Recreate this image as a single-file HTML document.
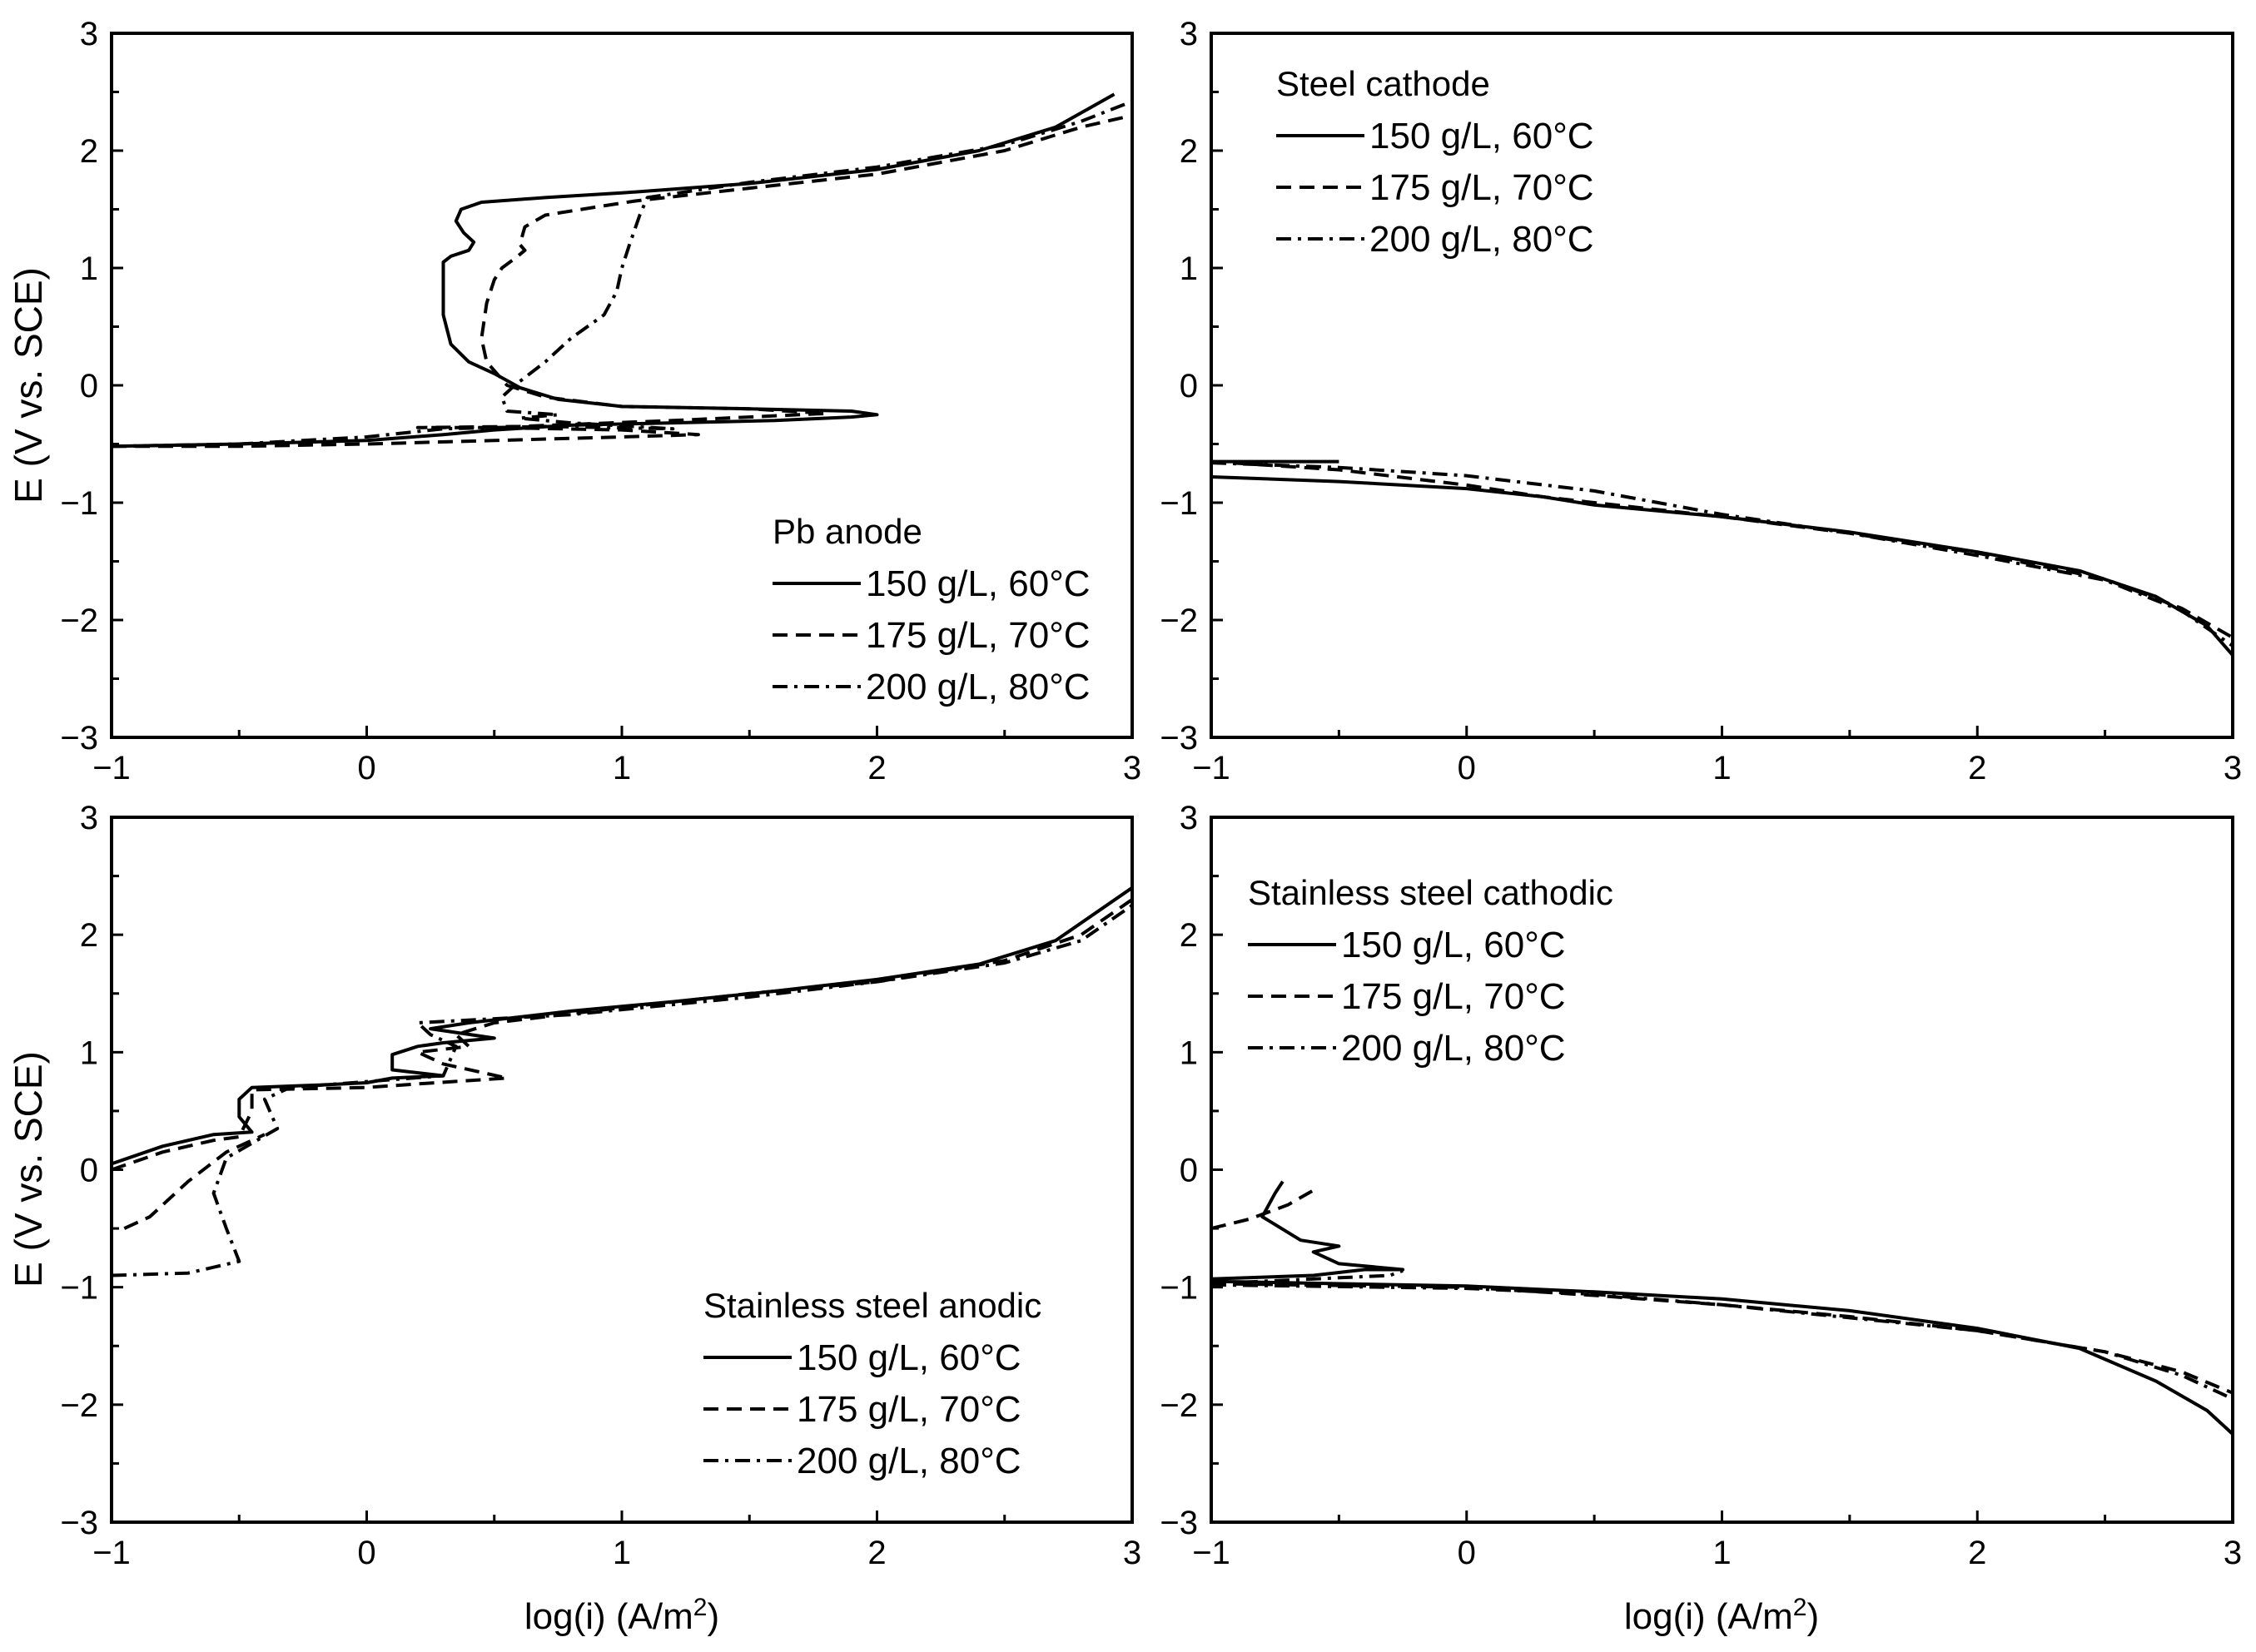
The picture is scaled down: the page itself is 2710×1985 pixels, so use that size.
<!DOCTYPE html>
<html><head><meta charset="utf-8"><style>
body{margin:0;background:#fff}
svg{display:block;font-family:"Liberation Sans",sans-serif}
</style></head><body>
<svg id="fig" width="2710" height="1985" viewBox="0 0 2710 1985" xmlns="http://www.w3.org/2000/svg"></svg>
<script>
const xTicks=[-1,0,1,2,3];
const yTicks=[-3,-2,-1,0,1,2,3];
const seriesNames=["150 g/L, 60\u00B0C","175 g/L, 70\u00B0C","200 g/L, 80\u00B0C"];
const panelTitles=["Pb anode","Steel cathode","Stainless steel anodic","Stainless steel cathodic"];
// Pb anode
const pbX1=[-1,-0.5,0,0.3,0.5,0.8,1.2,1.6,1.9,2.0,1.9,1.5,1.0,0.75,0.6,0.5,0.4,0.33,0.3,0.3,0.33,0.4,0.42,0.38,0.35,0.37,0.45,0.7,1.0,1.5,2.0,2.4,2.7,2.93];
const pbY1=[-0.52,-0.5,-0.47,-0.42,-0.38,-0.34,-0.32,-0.3,-0.27,-0.25,-0.22,-0.2,-0.18,-0.12,-0.02,0.1,0.2,0.35,0.6,1.05,1.1,1.15,1.22,1.3,1.4,1.5,1.56,1.6,1.64,1.72,1.84,2.0,2.2,2.48];
const pbX2=[-1,-0.5,0,0.5,1.0,1.3,1.0,0.5,0.2,0.6,1.2,1.8,1.5,1.0,0.7,0.55,0.47,0.45,0.47,0.5,0.53,0.58,0.62,0.6,0.62,0.7,0.9,1.05,1.5,2.0,2.5,2.8,3.0];
const pbY2=[-0.52,-0.52,-0.5,-0.47,-0.44,-0.42,-0.38,-0.36,-0.36,-0.35,-0.3,-0.24,-0.2,-0.18,-0.1,0.0,0.2,0.4,0.7,0.9,1.0,1.08,1.15,1.2,1.35,1.45,1.52,1.57,1.68,1.8,2.0,2.2,2.3];
const pbX3=[-1,-0.5,0,0.3,0.7,1.2,0.8,0.6,0.75,0.55,0.53,0.58,0.7,0.8,0.93,0.98,1.0,1.03,1.07,1.1,1.5,2.0,2.5,2.8,3.0];
const pbY3=[-0.52,-0.5,-0.44,-0.37,-0.35,-0.37,-0.32,-0.28,-0.25,-0.22,-0.1,0.0,0.2,0.4,0.6,0.8,1.0,1.2,1.45,1.6,1.73,1.86,2.05,2.25,2.42];
// Steel cathode
const scX1=[-0.5,-1,null,-1,-0.5,0,0.3,0.5,1,1.5,2,2.4,2.7,2.9,3];
const scY1=[-0.65,-0.65,null,-0.78,-0.82,-0.88,-0.95,-1.02,-1.12,-1.25,-1.42,-1.58,-1.8,-2.05,-2.3];
const scX2=[-1,-0.5,0,0.3,0.5,1,1.5,2,2.5,2.8,3];
const scY2=[-0.65,-0.72,-0.85,-0.95,-1.0,-1.12,-1.26,-1.43,-1.65,-1.9,-2.15];
const scX3=[-1,-0.5,0,0.5,1,1.5,2,2.5,2.8,3];
const scY3=[-0.66,-0.7,-0.77,-0.9,-1.1,-1.26,-1.45,-1.66,-1.92,-2.22];
// Stainless anodic
const saX1=[-1,-0.8,-0.6,-0.45,-0.5,-0.5,-0.45,-0.2,0,0.1,0.3,0.1,0.1,0.2,0.3,0.5,0.25,0.4,0.8,1.2,1.6,2.0,2.4,2.7,3];
const saY1=[0.05,0.2,0.3,0.32,0.45,0.6,0.7,0.72,0.74,0.78,0.8,0.85,0.98,1.05,1.08,1.12,1.2,1.25,1.35,1.43,1.52,1.62,1.75,1.95,2.4];
const saX2=[-0.95,-0.85,-0.7,-0.55,-0.4,null,-1,-0.8,-0.6,-0.5,-0.45,-0.45,0,0.2,0.55,0.3,0.2,0.4,0.35,0.5,1,1.5,2,2.5,2.8,3];
const saY2=[-0.5,-0.4,-0.1,0.15,0.3,null,0.0,0.15,0.25,0.28,0.5,0.68,0.7,0.73,0.78,0.9,1.0,1.05,1.15,1.25,1.38,1.5,1.6,1.78,2.0,2.3];
const saX3=[-1,-0.7,-0.5,-0.55,-0.6,-0.55,-0.35,-0.4,-0.3,0.3,0.35,0.25,0.2,0.8,1.5,2,2.5,2.8,3];
const saY3=[-0.9,-0.88,-0.78,-0.5,-0.2,0.1,0.35,0.6,0.7,0.8,1.05,1.15,1.25,1.32,1.47,1.6,1.76,1.95,2.25];
// Stainless cathodic
const ccX1=[-1,-0.6,-0.4,-0.25,-0.5,-0.6,-0.5,-0.65,-0.8,-0.75,-0.72,null,-1,0,0.5,1,1.5,2,2.4,2.7,2.9,3];
const ccY1=[-0.93,-0.9,-0.85,-0.85,-0.8,-0.7,-0.65,-0.6,-0.4,-0.2,-0.1,null,-0.95,-0.99,-1.04,-1.1,-1.2,-1.35,-1.52,-1.8,-2.05,-2.25];
const ccX2=[-1,-0.85,-0.7,-0.58,null,-1,0,0.5,1,1.5,2,2.5,2.8,3];
const ccY2=[-0.5,-0.42,-0.3,-0.15,null,-0.97,-1.0,-1.07,-1.15,-1.25,-1.37,-1.55,-1.72,-1.9];
const ccX3=[-1,-0.3,-0.25,null,-1,0,0.5,1,1.5,2,2.5,2.8,3];
const ccY3=[-0.97,-0.9,-0.86,null,-0.98,-1.01,-1.06,-1.15,-1.26,-1.37,-1.55,-1.75,-1.95];

const NS="http://www.w3.org/2000/svg";
const svg=document.getElementById('fig');
function el(tag,attrs,parent){const e=document.createElementNS(NS,tag);for(const k in attrs)e.setAttribute(k,attrs[k]);(parent||svg).appendChild(e);return e;}
const dashes=["none","18,10","18,8,4,8"];
const panels=[
 {l:134,r:1360,t:40,b:886,xs:[[pbX1,pbY1],[pbX2,pbY2],[pbX3,pbY3]],lx:928,ly:638},
 {l:1455,r:2682,t:40,b:886,xs:[[scX1,scY1],[scX2,scY2],[scX3,scY3]],lx:1533,ly:100},
 {l:134,r:1360,t:982,b:1829,xs:[[saX1,saY1],[saX2,saY2],[saX3,saY3]],lx:845,ly:1568},
 {l:1455,r:2682,t:982,b:1829,xs:[[ccX1,ccY1],[ccX2,ccY2],[ccX3,ccY3]],lx:1499,ly:1072}
];
panels.forEach((p,pi)=>{
 const g=el('g',{});
 
 
 const sx=v=>p.l+(v+1)/4*(p.r-p.l);
 const sy=v=>p.b-(v+3)/6*(p.b-p.t);
 p.xs.forEach((s,si)=>{
  let d="",pen=false;
  for(let i=0;i<s[0].length;i++){
   if(s[0][i]===null){pen=false;continue;}
   d+=(pen?"L":"M")+sx(s[0][i]).toFixed(1)+","+sy(s[1][i]).toFixed(1);pen=true;
  }
  const path=el('path',{d:d,fill:'none',stroke:'#000','stroke-width':4,'stroke-dasharray':dashes[si],'stroke-linejoin':'round'},g);
  
  
 });
 const fr=el('rect',{x:p.l,y:p.t,width:p.r-p.l,height:p.b-p.t,fill:'none',stroke:'#000','stroke-width':4},g);
 
 
 for(let v=-1;v<=3.001;v+=0.5){
  const maj=Math.abs(v-Math.round(v))<1e-6;
  el('line',{x1:sx(v),x2:sx(v),y1:p.b,y2:p.b-(maj?14:9),stroke:'#000','stroke-width':3},g);
 }
 xTicks.forEach(v=>{
  const t=el('text',{x:sx(v),y:p.b+50,'font-size':40,'text-anchor':'middle'},g);
  t.textContent=(v<0?"\u2212"+(-v):""+v);
  
  
 });
 for(let v=-3;v<=3.001;v+=0.5){
  const maj=Math.abs(v-Math.round(v))<1e-6;
  el('line',{x1:p.l,x2:p.l+(maj?14:9),y1:sy(v),y2:sy(v),stroke:'#000','stroke-width':3},g);
 }
 yTicks.forEach(v=>{
  const t=el('text',{x:p.l-16,y:sy(v)+14,'font-size':40,'text-anchor':'end'},g);
  t.textContent=(v<0?"\u2212"+(-v):""+v);
  
  
 });
 const lg=el('g',{},g);
 
 
 const tt=el('text',{x:p.lx,y:p.ly+15,'font-size':42},lg);
 tt.textContent=panelTitles[pi];
 
 
 seriesNames.forEach((n,si)=>{
  const yy=p.ly+62*(si+1)+1;
  const ln=el('line',{x1:p.lx,x2:p.lx+106,y1:yy,y2:yy,stroke:'#000','stroke-width':4,'stroke-dasharray':dashes[si]},lg);
  
  
  const tx=el('text',{x:p.lx+112,y:yy+15,'font-size':44},lg);
  tx.textContent=n;
  
  
 });
});
[463,1405].forEach(c=>{
 const t=el('text',{x:50,y:c,'font-size':46,'text-anchor':'middle',transform:'rotate(-90 50 '+c+')'});
 t.textContent="E (V vs. SCE)";
 
 
});
[747,2068].forEach(cx=>{
 const t=el('text',{x:cx,y:1957,'font-size':44,'text-anchor':'middle'});
 t.innerHTML='log(i) (A/m<tspan dy="-16" font-size="30">2</tspan><tspan dy="16">)</tspan>';
 
 
});
</script>
</body></html>
